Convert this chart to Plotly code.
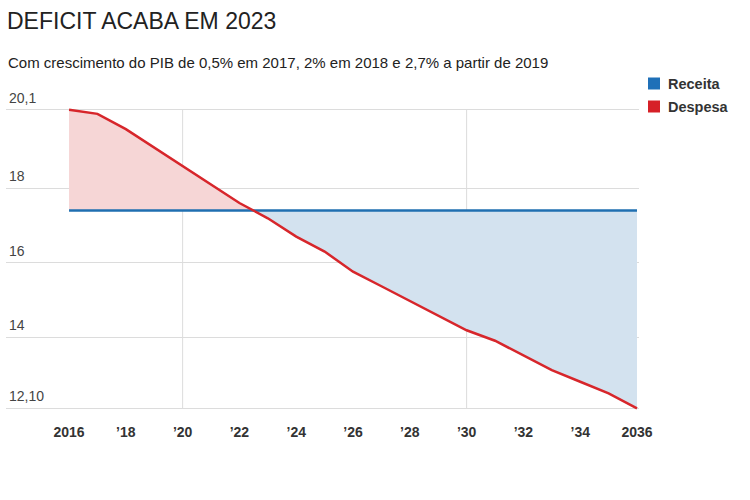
import plotly.graph_objects as go

years = list(range(2016, 2037))
despesa = [20.1, 19.99, 19.58, 19.09, 18.60, 18.10, 17.60, 17.19, 16.70, 16.30,
           15.76, 15.37, 14.98, 14.59, 14.19, 13.91, 13.52, 13.12, 12.81, 12.50, 12.10]
receita_val = 17.4
receita = [receita_val] * len(years)

x_tickvals = [2016, 2018, 2020, 2022, 2024, 2026, 2028, 2030, 2032, 2034, 2036]
x_ticktext = ["2016", "’18", "’20", "’22", "’24", "’26", "’28", "’30", "’32", "’34", "2036"]
y_tickvals = [12.1, 14, 16, 18, 20.1]
y_ticktext = ["12,10", "14", "16", "18", "20,1"]
vgrid_years = [2020, 2030]
legend_names = ["Receita", "Despesa"]

RED = "#d7262b"
BLUE = "#1f6fb1"
PINK_FILL = "#f6d6d6"
BLUE_FILL = "#d3e2ef"
LEG_COLORS = ["#1f70b8", "#d62027"]
FONT = "Liberation Sans"

W, H = 750, 500
ML, MR, MT, MB = 6, 111, 106, 88
PW, PH = W - ML - MR, H - MT - MB


def px2paper_x(px):
    return (px - ML) / PW


def px2paper_y(py):
    return (H - MB - py) / PH


# crossing point where despesa meets receita (interpolated from data)
cross_x, cross_i = None, None
for i in range(len(years) - 1):
    a, b = despesa[i] - receita[i], despesa[i + 1] - receita[i + 1]
    if a >= 0 and b < 0:
        t = a / (a - b)
        cross_x = years[i] + t * (years[i + 1] - years[i])
        cross_i = i
        break

xs_pink = years[:cross_i + 1] + [cross_x]
d_pink = despesa[:cross_i + 1] + [receita_val]
r_pink = [receita_val] * len(xs_pink)

xs_blue = [cross_x] + years[cross_i + 1:]
d_blue = [receita_val] + despesa[cross_i + 1:]
r_blue = [receita_val] * len(xs_blue)

fig = go.Figure()
fig.add_trace(go.Scatter(x=xs_pink, y=r_pink, mode="lines", line=dict(width=0),
                         showlegend=False, hoverinfo="skip"))
fig.add_trace(go.Scatter(x=xs_pink, y=d_pink, mode="lines", line=dict(width=0),
                         fill="tonexty", fillcolor=PINK_FILL, showlegend=False, hoverinfo="skip"))
fig.add_trace(go.Scatter(x=xs_blue, y=d_blue, mode="lines", line=dict(width=0),
                         showlegend=False, hoverinfo="skip"))
fig.add_trace(go.Scatter(x=xs_blue, y=r_blue, mode="lines", line=dict(width=0),
                         fill="tonexty", fillcolor=BLUE_FILL, showlegend=False, hoverinfo="skip"))
fig.add_trace(go.Scatter(x=years, y=receita, mode="lines", line=dict(color=BLUE, width=2.5),
                         name="Receita", showlegend=False))
fig.add_trace(go.Scatter(x=years, y=despesa, mode="lines", line=dict(color=RED, width=2.5),
                         name="Despesa", showlegend=False))

shapes = []
for vx in vgrid_years:
    shapes.append(dict(type="line", xref="x", yref="y", x0=vx, x1=vx,
                       y0=y_tickvals[0], y1=y_tickvals[-1],
                       line=dict(color="#dcdcdc", width=1), layer="below"))

annotations = [dict(text="Com crescimento do PIB de 0,5% em 2017, 2% em 2018 e 2,7% a partir de 2019",
                    xref="paper", yref="paper", x=px2paper_x(6), y=px2paper_y(62),
                    xanchor="left", yanchor="middle", showarrow=False,
                    font=dict(family=FONT, size=15, color="#222222"))]

# y tick labels above gridlines
for v, t in zip(y_tickvals, y_ticktext):
    annotations.append(dict(text=t, xref="paper", yref="y", x=px2paper_x(7), y=v,
                            xanchor="left", yanchor="bottom", yshift=2, showarrow=False,
                            font=dict(family=FONT, size=14, color="#444444")))

# custom legend with squares
leg_centers = [83.5, 106.5]
for name, col, cy in zip(legend_names, LEG_COLORS, leg_centers):
    shapes.append(dict(type="rect", xref="paper", yref="paper",
                       x0=px2paper_x(648), x1=px2paper_x(660),
                       y0=px2paper_y(cy + 6), y1=px2paper_y(cy - 6),
                       fillcolor=col, line=dict(width=0)))
    annotations.append(dict(text=name, xref="paper", yref="paper",
                            x=px2paper_x(666), y=px2paper_y(cy), xanchor="left", yanchor="middle",
                            showarrow=False,
                            font=dict(family=FONT, size=14.5, color="#333333", weight="bold")))

fig.update_layout(
    width=W, height=H,
    margin=dict(l=ML, r=MR, t=MT, b=MB),
    paper_bgcolor="white", plot_bgcolor="white",
    font=dict(family=FONT, color="#333333"),
    title=dict(text="DEFICIT ACABA EM 2023", xref="container", yref="container",
               x=7 / W, xanchor="left", y=1 - 21 / H, yanchor="middle",
               font=dict(family=FONT, size=23, color="#222222")),
    annotations=annotations,
    shapes=shapes,
    showlegend=False,
    xaxis=dict(range=[2013.78, 2036.07], showgrid=False, zeroline=False, showline=False,
               tickmode="array", tickvals=x_tickvals, ticktext=x_ticktext,
               ticks="", ticklabelstandoff=10,
               tickfont=dict(family=FONT, size=14, color="#333333", weight="bold")),
    yaxis=dict(range=[12.0, 20.2], showgrid=True, gridcolor="#dcdcdc", gridwidth=1,
               zeroline=False, showline=False, tickmode="array", tickvals=y_tickvals,
               showticklabels=False, ticks=""),
)

fig.write_html("out.html")
